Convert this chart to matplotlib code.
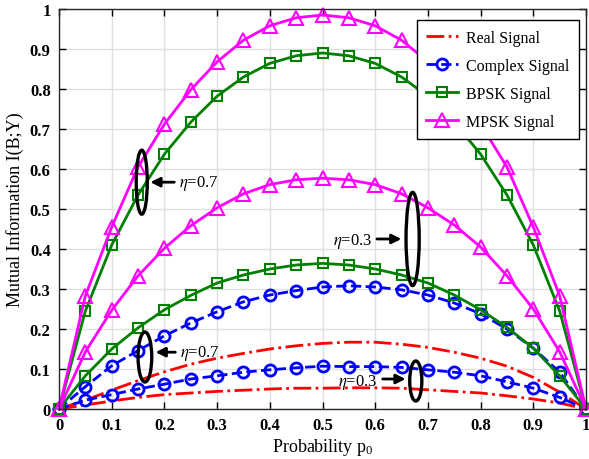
import numpy as np
import matplotlib.pyplot as plt
from matplotlib.patches import Ellipse

plt.rcParams['font.family'] = ['Liberation Serif', 'DejaVu Serif']
plt.rcParams['mathtext.fontset'] = 'stix'

# probability of sending bit 0
p0 = np.round(np.arange(0, 1.0001, 0.05), 2)

# mutual information curves, eta = 0.7 and eta = 0.3
real_07 = [0, 0.022, 0.047, 0.071, 0.093, 0.112, 0.127, 0.139, 0.150, 0.158, 0.164,
           0.167, 0.167, 0.162, 0.154, 0.142, 0.127, 0.107, 0.079, 0.042, 0]
real_03 = [0, 0.010, 0.020, 0.029, 0.036, 0.040, 0.044, 0.047, 0.050, 0.052, 0.052,
           0.053, 0.053, 0.052, 0.048, 0.044, 0.040, 0.033, 0.025, 0.015, 0]
cplx_07 = [0, 0.056, 0.108, 0.146, 0.183, 0.215, 0.243, 0.268, 0.285, 0.296, 0.305,
           0.308, 0.305, 0.298, 0.285, 0.265, 0.238, 0.200, 0.152, 0.092, 0]
cplx_03 = [0, 0.022, 0.036, 0.050, 0.062, 0.075, 0.083, 0.092, 0.098, 0.103, 0.107,
           0.106, 0.106, 0.104, 0.098, 0.092, 0.083, 0.068, 0.052, 0.029, 0]
bpsk_07 = [0, 0.245, 0.410, 0.535, 0.637, 0.717, 0.782, 0.830, 0.864, 0.883, 0.890,
           0.883, 0.864, 0.830, 0.782, 0.717, 0.637, 0.535, 0.410, 0.245, 0]
bpsk_03 = [0, 0.083, 0.150, 0.203, 0.248, 0.284, 0.315, 0.335, 0.350, 0.360, 0.364,
           0.360, 0.350, 0.335, 0.315, 0.285, 0.248, 0.204, 0.152, 0.083, 0]
mpsk_07 = [0, 0.283, 0.455, 0.605, 0.712, 0.798, 0.868, 0.922, 0.958, 0.978, 0.985,
           0.978, 0.958, 0.922, 0.868, 0.798, 0.712, 0.605, 0.455, 0.283, 0]
mpsk_03 = [0, 0.143, 0.247, 0.333, 0.402, 0.458, 0.503, 0.538, 0.561, 0.573, 0.577,
           0.573, 0.561, 0.538, 0.503, 0.460, 0.405, 0.333, 0.250, 0.143, 0]

tick_labels = ['0', '0.1', '0.2', '0.3', '0.4', '0.5', '0.6', '0.7', '0.8', '0.9', '1']

fig = plt.figure(figsize=(5.89, 4.6), dpi=100)
ax = fig.add_axes([0.1002, 0.1087, 0.8947, 0.8696])

lw = 2.0
green = '#008000'
ax.plot(p0, real_07, '-.', color='red', lw=lw, label='Real Signal', clip_on=False)
ax.plot(p0, cplx_07, '--', color='blue', lw=lw, marker='o', ms=8, mfc='none', mew=2,
        label='Complex Signal', clip_on=False)
ax.plot(p0, bpsk_07, '-', color=green, lw=lw, marker='s', ms=7, mfc='none', mew=1.5,
        label='BPSK Signal', clip_on=False)
ax.plot(p0, mpsk_07, '-', color='magenta', lw=lw, marker='^', ms=10, mfc='none', mew=1.5,
        label='MPSK Signal', clip_on=False)

ax.plot(p0, real_03, '-.', color='red', lw=lw, clip_on=False)
ax.plot(p0, cplx_03, '--', color='blue', lw=lw, marker='o', ms=8, mfc='none', mew=2, clip_on=False)
ax.plot(p0, bpsk_03, '-', color=green, lw=lw, marker='s', ms=7, mfc='none', mew=1.5, clip_on=False)
ax.plot(p0, mpsk_03, '-', color='magenta', lw=lw, marker='^', ms=10, mfc='none', mew=1.5, clip_on=False)

# ellipses grouping the curves for each eta, with arrows and labels
groups = [
    # (cx, cy, w, h, tail_x, head_x, arrow_y, text, text_x, text_y, ha)
    (0.157, 0.567, 0.021, 0.160, 0.224, 0.168, 0.567, r'$\eta$=0.7', 0.228, 0.567, 'left'),
    (0.671, 0.425, 0.025, 0.233, 0.598, 0.655, 0.425, r'$\eta$=0.3', 0.594, 0.422, 'right'),
    (0.163, 0.130, 0.026, 0.125, 0.226, 0.178, 0.142, r'$\eta$=0.7', 0.230, 0.142, 'left'),
    (0.677, 0.070, 0.023, 0.100, 0.609, 0.663, 0.075, r'$\eta$=0.3', 0.604, 0.068, 'right'),
]
for cx, cy, w, h, tx, hx, ay, txt, lx, ly, ha in groups:
    ax.add_patch(Ellipse((cx, cy), w, h, fill=False, ec='black', lw=2.4, zorder=5))
    ax.annotate('', xy=(hx, ay), xytext=(tx, ay),
                arrowprops=dict(arrowstyle='-|>', color='black', lw=2, mutation_scale=14),
                zorder=5)
    ax.text(lx, ly, txt, ha=ha, va='center', fontsize=12, zorder=5)

ax.set_xlim(0, 1)
ax.set_ylim(0, 1)
ax.set_xticks(np.arange(0, 1.01, 0.1))
ax.set_yticks(np.arange(0, 1.01, 0.1))
ax.set_xticklabels(tick_labels)
ax.set_yticklabels(tick_labels)
ax.tick_params(direction='in', top=True, right=True, length=5, width=1, labelsize=12, pad=6)
for lab in ax.get_xticklabels() + ax.get_yticklabels():
    lab.set_fontweight('bold')
ax.grid(True, color='#e0e0e0', lw=1)
ax.set_axisbelow(True)
for sp in ax.spines.values():
    sp.set_linewidth(1)
    sp.set_color('#262626')

ax.set_xlabel(r'Probability $\mathregular{p_0}$', fontsize=13, labelpad=2)
ax.set_ylabel('Mutual Information I(B;Y)', fontsize=13, labelpad=4)

leg = ax.legend(loc='upper right', bbox_to_anchor=(0.987, 0.9725), borderaxespad=0,
                fontsize=11.5, fancybox=False, edgecolor='black', framealpha=1,
                handlelength=2.0, labelspacing=0.75, borderpad=0.6, handletextpad=0.5)
leg.get_frame().set_linewidth(1)

plt.savefig('out.png', dpi=100)
plt.close()
